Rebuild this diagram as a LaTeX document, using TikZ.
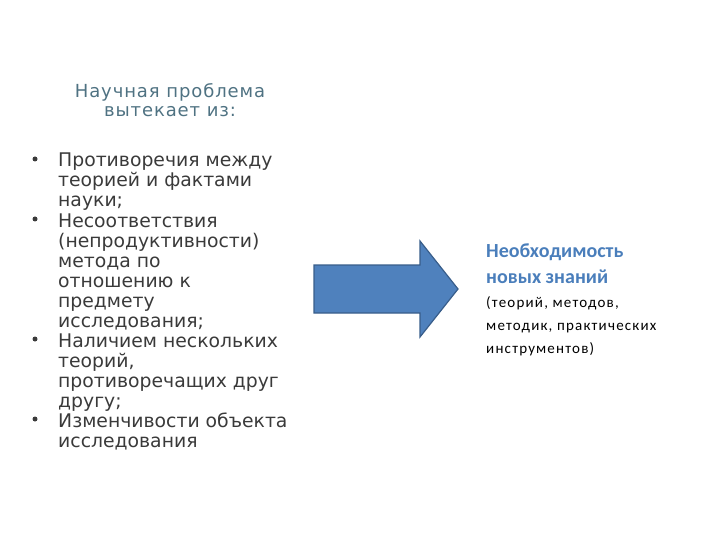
\documentclass[tikz,border=0pt]{standalone}
\usepackage{fontspec}
\setmainfont{DejaVu Sans}
\newfontfamily\calib{Carlito}
\definecolor{titlec}{HTML}{4F7282}
\definecolor{bodyc}{HTML}{3A3A3A}
\definecolor{arrowf}{HTML}{4F81BD}
\definecolor{arrowd}{HTML}{385D8A}
\definecolor{headc}{HTML}{4A7EBB}
\tikzset{
  bullettext/.style={anchor=base west, align=left, inner sep=0pt, text=bodyc,
    font=\fontsize{18.8}{20}\selectfont},
  bulletdot/.style={circle, fill=bodyc, inner sep=0pt, minimum size=5pt},
}
\begin{document}
\begin{tikzpicture}[x=1pt,y=-1pt]
\useasboundingbox (0,0) rectangle (720,540);
% base anchors refer to the last line of each node
\node[anchor=base, align=center, text=titlec, font=\addfontfeature{LetterSpace=5}\fontsize{18}{19}\selectfont, inner sep=0pt] (title) at (170,117) {Научная проблема\\вытекает из:};
\node[bullettext] (b1) at (58,207) {Противоречия между\\теорией и фактами\\науки;};
\node[bullettext] (b2) at (58,327) {Несоответствия\\(непродуктивности)\\метода по\\отношению к\\предмету\\исследования;};
\node[bullettext] (b3) at (58,407) {Наличием нескольких\\теорий,\\противоречащих друг\\другу;};
\node[bullettext] (b4) at (58,447) {Изменчивости объекта\\исследования};
\node[bulletdot] (d1) at (35,159) {};
\node[bulletdot] (d2) at (35,219) {};
\node[bulletdot] (d3) at (35,339) {};
\node[bulletdot] (d4) at (35,419) {};
\draw[fill=arrowf, draw=arrowd, line width=1.2pt] (314,265) -- (420,265) -- (420,241) -- (458,289) -- (420,337) -- (420,313) -- (314,313) -- cycle;
\node[anchor=base west, align=left, inner sep=0pt, text=headc, font=\calib\bfseries\fontsize{20}{26}\selectfont] (need) at (486,283) {Необходимость\\новых знаний};
\node[anchor=base west, align=left, inner sep=0pt, text=black, font=\calib\addfontfeature{LetterSpace=8}\fontsize{15}{23}\selectfont] (paren) at (486,353) {(теорий, методов,\\методик, практических\\инструментов)};
\end{tikzpicture}
\end{document}
